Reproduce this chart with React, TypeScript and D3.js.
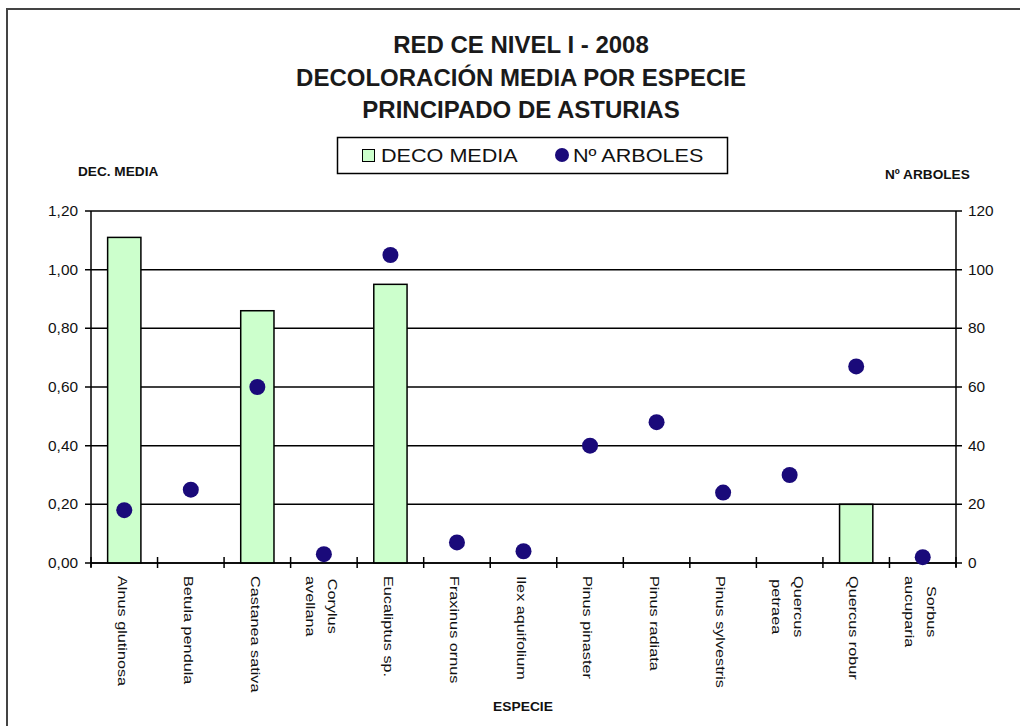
import React, { useEffect, useRef } from 'react';
import * as d3 from 'd3';

const titleLines = ['RED CE NIVEL I - 2008', 'DECOLORACIÓN MEDIA POR ESPECIE', 'PRINCIPADO DE ASTURIAS'];
const species = [
    'Alnus glutinosa', 'Betula pendula', 'Castanea sativa', 'Corylus\navellana', 'Eucaliptus sp.',
    'Fraxinus ornus', 'Ilex aquifolium', 'Pinus pinaster', 'Pinus radiata', 'Pinus sylvestris',
    'Quercus\npetraea', 'Quercus robur', 'Sorbus\naucuparia',
];
const decoMedia = [1.11, 0, 0.86, 0, 0.95, 0, 0, 0, 0, 0, 0, 0.2, 0];
const numArboles = [18, 25, 60, 3, 105, 7, 4, 40, 48, 24, 30, 67, 2];
const leftTicks = [0, 0.2, 0.4, 0.6, 0.8, 1.0, 1.2];
const rightTicks = [0, 20, 40, 60, 80, 100, 120];

const FONT = '"Liberation Sans", Arial, sans-serif';
const BAR = '#ccffcc';
const DOT = '#1a0a7a';

const App: React.FC = () => {
    const svgRef = useRef<SVGSVGElement | null>(null);

    useEffect(() => {
        if (!svgRef.current) return;
        const width = 1020;
        const height = 726;
        const left = 91, right = 956, top = 211, bottom = 563;

        const x = d3.scaleBand().domain(species).range([left, right]);
        const yL = d3.scaleLinear().domain([0, 1.2]).range([bottom, top]);
        const yR = d3.scaleLinear().domain([0, 120]).range([bottom, top]);
        const fmt = d3.formatLocale({ decimal: ',', thousands: '.', grouping: [3], currency: ['', ''] }).format('.2f');

        const svg = d3.select(svgRef.current);
        svg.selectAll('*').remove();
        svg.attr('width', width).attr('height', height);
        svg.append('rect').attr('width', width).attr('height', height).attr('fill', 'white');

        // stretched text helper (the reference text is wider than plain Arial)
        const stretchText = (g: any, tx: number, ty: number, sx: number, txt: string, size: number, anchor: string, bold = false, dy = '0') => {
            g.append('g')
                .attr('transform', `translate(${tx},${ty}) scale(${sx},1)`)
                .append('text')
                .attr('text-anchor', anchor)
                .attr('dy', dy)
                .attr('font-family', FONT)
                .attr('font-size', size)
                .attr('font-weight', bold ? 'bold' : 'normal')
                .attr('fill', '#111')
                .text(txt);
        };

        // outer frame
        svg.append('path')
            .attr('d', `M7,${height} V9 H${width}`)
            .attr('fill', 'none')
            .attr('stroke', '#444')
            .attr('stroke-width', 2);

        // title
        svg.selectAll('.title')
            .data(titleLines)
            .enter()
            .append('text')
            .attr('class', 'title')
            .attr('x', 521)
            .attr('y', (d, i) => [53, 86, 118][i])
            .attr('text-anchor', 'middle')
            .attr('font-family', FONT)
            .attr('font-size', 24)
            .attr('font-weight', 'bold')
            .attr('fill', '#1a1a1a')
            .text(d => d);

        // legend
        const lg = svg.append('g');
        lg.append('rect').attr('x', 337.5).attr('y', 137.5).attr('width', 390).attr('height', 36)
            .attr('fill', 'white').attr('stroke', '#000').attr('stroke-width', 1.5);
        lg.append('rect').attr('x', 362.5).attr('y', 149.5).attr('width', 12).attr('height', 12)
            .attr('fill', BAR).attr('stroke', '#000').attr('stroke-width', 1);
        stretchText(lg, 381, 162, 1.2, 'DECO MEDIA', 18, 'start');
        lg.append('circle').attr('cx', 562).attr('cy', 155).attr('r', 7).attr('fill', DOT);
        stretchText(lg, 573, 162, 1.2, 'Nº ARBOLES', 18, 'start');

        // axis titles
        stretchText(svg, 78, 176, 1.05, 'DEC. MEDIA', 13, 'start', true);
        stretchText(svg, 885, 179, 1.05, 'Nº ARBOLES', 13, 'start', true);
        stretchText(svg, 523, 711, 1.15, 'ESPECIE', 12, 'middle', true);

        // gridlines with outside tick marks on both sides
        svg.selectAll('.grid')
            .data(leftTicks)
            .enter()
            .append('line')
            .attr('class', 'grid')
            .attr('x1', left - 6)
            .attr('x2', right + 6)
            .attr('y1', d => yL(d))
            .attr('y2', d => yL(d))
            .attr('stroke', '#000')
            .attr('stroke-width', 1.5);

        // bars
        svg.selectAll('.bar')
            .data(species.filter((s, i) => decoMedia[i] > 0))
            .enter()
            .append('rect')
            .attr('class', 'bar')
            .attr('x', d => (x(d) as number) + x.bandwidth() * 0.25)
            .attr('width', x.bandwidth() * 0.5)
            .attr('y', d => yL(decoMedia[species.indexOf(d)]))
            .attr('height', d => bottom - yL(decoMedia[species.indexOf(d)]))
            .attr('fill', BAR)
            .attr('stroke', '#000')
            .attr('stroke-width', 1.5);

        // axes lines
        svg.append('line').attr('x1', left).attr('x2', left).attr('y1', top).attr('y2', bottom + 4)
            .attr('stroke', '#000').attr('stroke-width', 1.5);
        svg.append('line').attr('x1', right).attr('x2', right).attr('y1', top).attr('y2', bottom + 4)
            .attr('stroke', '#000').attr('stroke-width', 1.5);
        svg.append('line').attr('x1', left).attr('x2', right).attr('y1', bottom).attr('y2', bottom)
            .attr('stroke', '#000').attr('stroke-width', 1.5);
        svg.selectAll('.xtick')
            .data(d3.range(species.length + 1))
            .enter()
            .append('line')
            .attr('class', 'xtick')
            .attr('x1', i => left + i * x.step())
            .attr('x2', i => left + i * x.step())
            .attr('y1', bottom - 6)
            .attr('y2', bottom + 5)
            .attr('stroke', '#000')
            .attr('stroke-width', 1.5);

        // tick labels
        leftTicks.forEach(t => stretchText(svg, 78, yL(t), 1.1, fmt(t), 14, 'end', false, '0.35em'));
        rightTicks.forEach(t => stretchText(svg, 968, yR(t), 1.1, String(t), 14, 'start', false, '0.35em'));

        // category labels, rotated, lines centred on each other
        const catSize = 12.5;
        const catStretch = 1.3;
        const lineGap = 22;
        species.forEach(s => {
            const lines = s.split('\n');
            const n = lines.length;
            const cx = (x(s) as number) + x.bandwidth() / 2;
            const g = svg.append('g')
                .attr('transform', `translate(${cx - 6.75 + (n - 1) / 2 * lineGap},576) rotate(90) scale(${catStretch},1)`);
            const texts = g.selectAll('text')
                .data(lines)
                .enter()
                .append('text')
                .attr('y', (d, i) => i * lineGap)
                .attr('font-family', FONT)
                .attr('font-size', catSize)
                .attr('fill', '#111')
                .text(d => d);
            if (n > 1) {
                let maxLen = 0;
                texts.each(function () {
                    maxLen = Math.max(maxLen, (this as SVGTextElement).getComputedTextLength());
                });
                texts.attr('x', maxLen / 2).attr('text-anchor', 'middle');
            } else {
                texts.attr('x', 0).attr('text-anchor', 'start');
            }
        });

        // points
        svg.selectAll('.dot')
            .data(species)
            .enter()
            .append('circle')
            .attr('class', 'dot')
            .attr('cx', d => (x(d) as number) + x.bandwidth() / 2)
            .attr('cy', (d, i) => yR(numArboles[i]))
            .attr('r', 8)
            .attr('fill', DOT);
    }, []);

    return (
        <svg ref={svgRef} style={{ position: 'absolute', left: 0, top: 0, display: 'block' }} />
    );
};

export default App;
